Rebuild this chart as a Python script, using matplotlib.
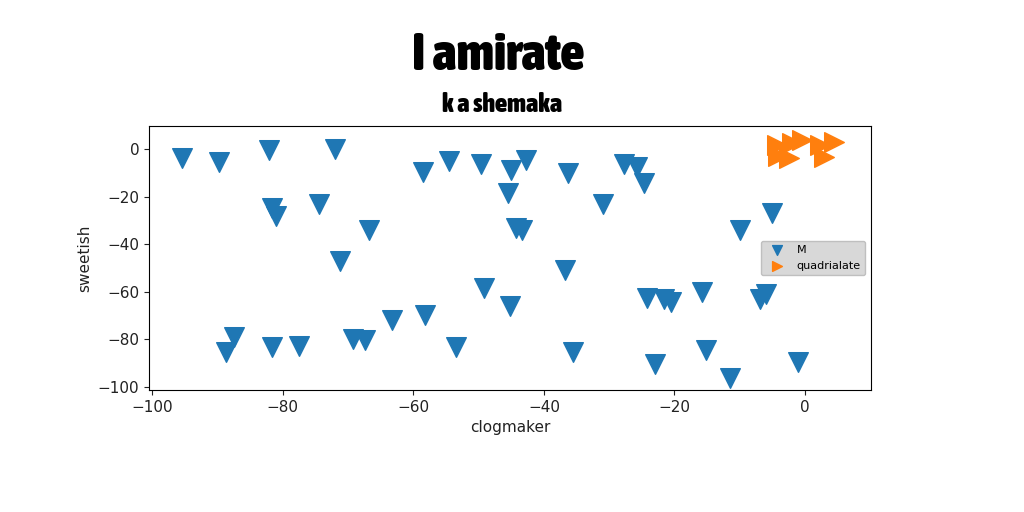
import matplotlib

matplotlib.use("Agg")

import matplotlib.pyplot as plt
from matplotlib import font_manager

# blue series "M" (triangle down)
m_x = [-95.4, -89.8, -82.1, -72.0, -81.7, -81.0, -74.4, -66.8, -71.2, -58.5,
       -54.5, -49.6, -45.0, -42.7, -45.5, -44.3, -43.4, -36.3, -36.8, -27.7,
       -25.8, -24.7, -31.0, -10.0, -5.1, -49.1, -45.2, -53.4, -35.6, -24.2,
       -21.6, -20.5, -15.8, -6.9, -5.9, -15.1, -23.0, -11.5, -1.1, -87.5,
       -88.7, -81.6, -77.5, -69.2, -67.4, -63.3, -58.2]
m_y = [-3.7, -5.3, -0.2, 0.2, -24.6, -27.9, -23.0, -34.1, -47.1, -9.6,
       -4.9, -6.3, -8.8, -4.6, -18.4, -33.3, -34.0, -10.0, -50.8, -6.2,
       -7.5, -14.2, -22.9, -33.9, -26.8, -58.3, -66.1, -83.3, -85.5, -62.5,
       -63.0, -64.2, -59.9, -63.0, -60.8, -84.4, -90.3, -96.2, -89.5, -79.1,
       -85.3, -83.2, -83.0, -80.0, -80.3, -72.0, -69.9]

# orange series "quadrialate" (triangle right)
q_x = [-4.3, -4.1, -2.0, -0.5, 2.3, 4.4, -2.4, 2.9]
q_y = [1.7, -3.0, 2.5, 3.8, 1.7, 3.0, -3.8, -3.4]


def _narrow_bold_font():
    # look for an installed condensed bold face, closest thing to Impact
    best = None
    for entry in font_manager.fontManager.ttflist:
        stretch = str(entry.stretch).lower()
        fname = entry.fname.lower()
        condensed = "condensed" in stretch or "condensed" in fname or "narrow" in fname
        weight = entry.weight if isinstance(entry.weight, int) else 400
        if condensed and weight >= 700 and entry.style == "normal":
            score = weight
            if best is None or score > best[0]:
                best = (score, entry.fname)
    if best is None:
        return None
    return font_manager.FontProperties(fname=best[1])


title_font = _narrow_bold_font()

fig = plt.figure(figsize=(10.24, 5.12), dpi=100)
ax = fig.add_axes([0.1455, 0.238, 0.705, 0.516])

ax.scatter(m_x, m_y, s=200, marker="v", color="#1f77b4", label="M")
ax.scatter(q_x, q_y, s=200, marker=">", color="#ff7f0e", label="quadrialate")

ax.set_xlim(-100.5, 10.1)
ax.set_ylim(-101.4, 9.8)
ax.set_xticks([-100, -80, -60, -40, -20, 0])
ax.set_yticks([-100, -80, -60, -40, -20, 0])
ax.tick_params(labelsize=11, colors="#222222")
ax.set_xlabel("clogmaker", fontsize=11, color="#222222")
ax.set_ylabel("sweetish", fontsize=11, color="#222222")

ax.legend(loc="center right", fontsize=8, markerscale=0.5,
          facecolor="#d4d4d4", edgecolor="#bbbbbb", framealpha=0.9)

if title_font is not None:
    big = title_font.copy()
    big.set_size(37.5)
    small = title_font.copy()
    small.set_size(19)
    fig.suptitle("I amirate", x=0.486, y=0.942, fontproperties=big)
    ax.set_title("k a shemaka", x=0.489, pad=10, fontproperties=small)
else:
    fig.suptitle("I amirate", x=0.486, y=0.942, fontsize=30, fontweight="heavy")
    ax.set_title("k a shemaka", x=0.489, fontsize=14, fontweight="heavy", pad=10)

fig.savefig("out.png", dpi=100)
plt.close(fig)
